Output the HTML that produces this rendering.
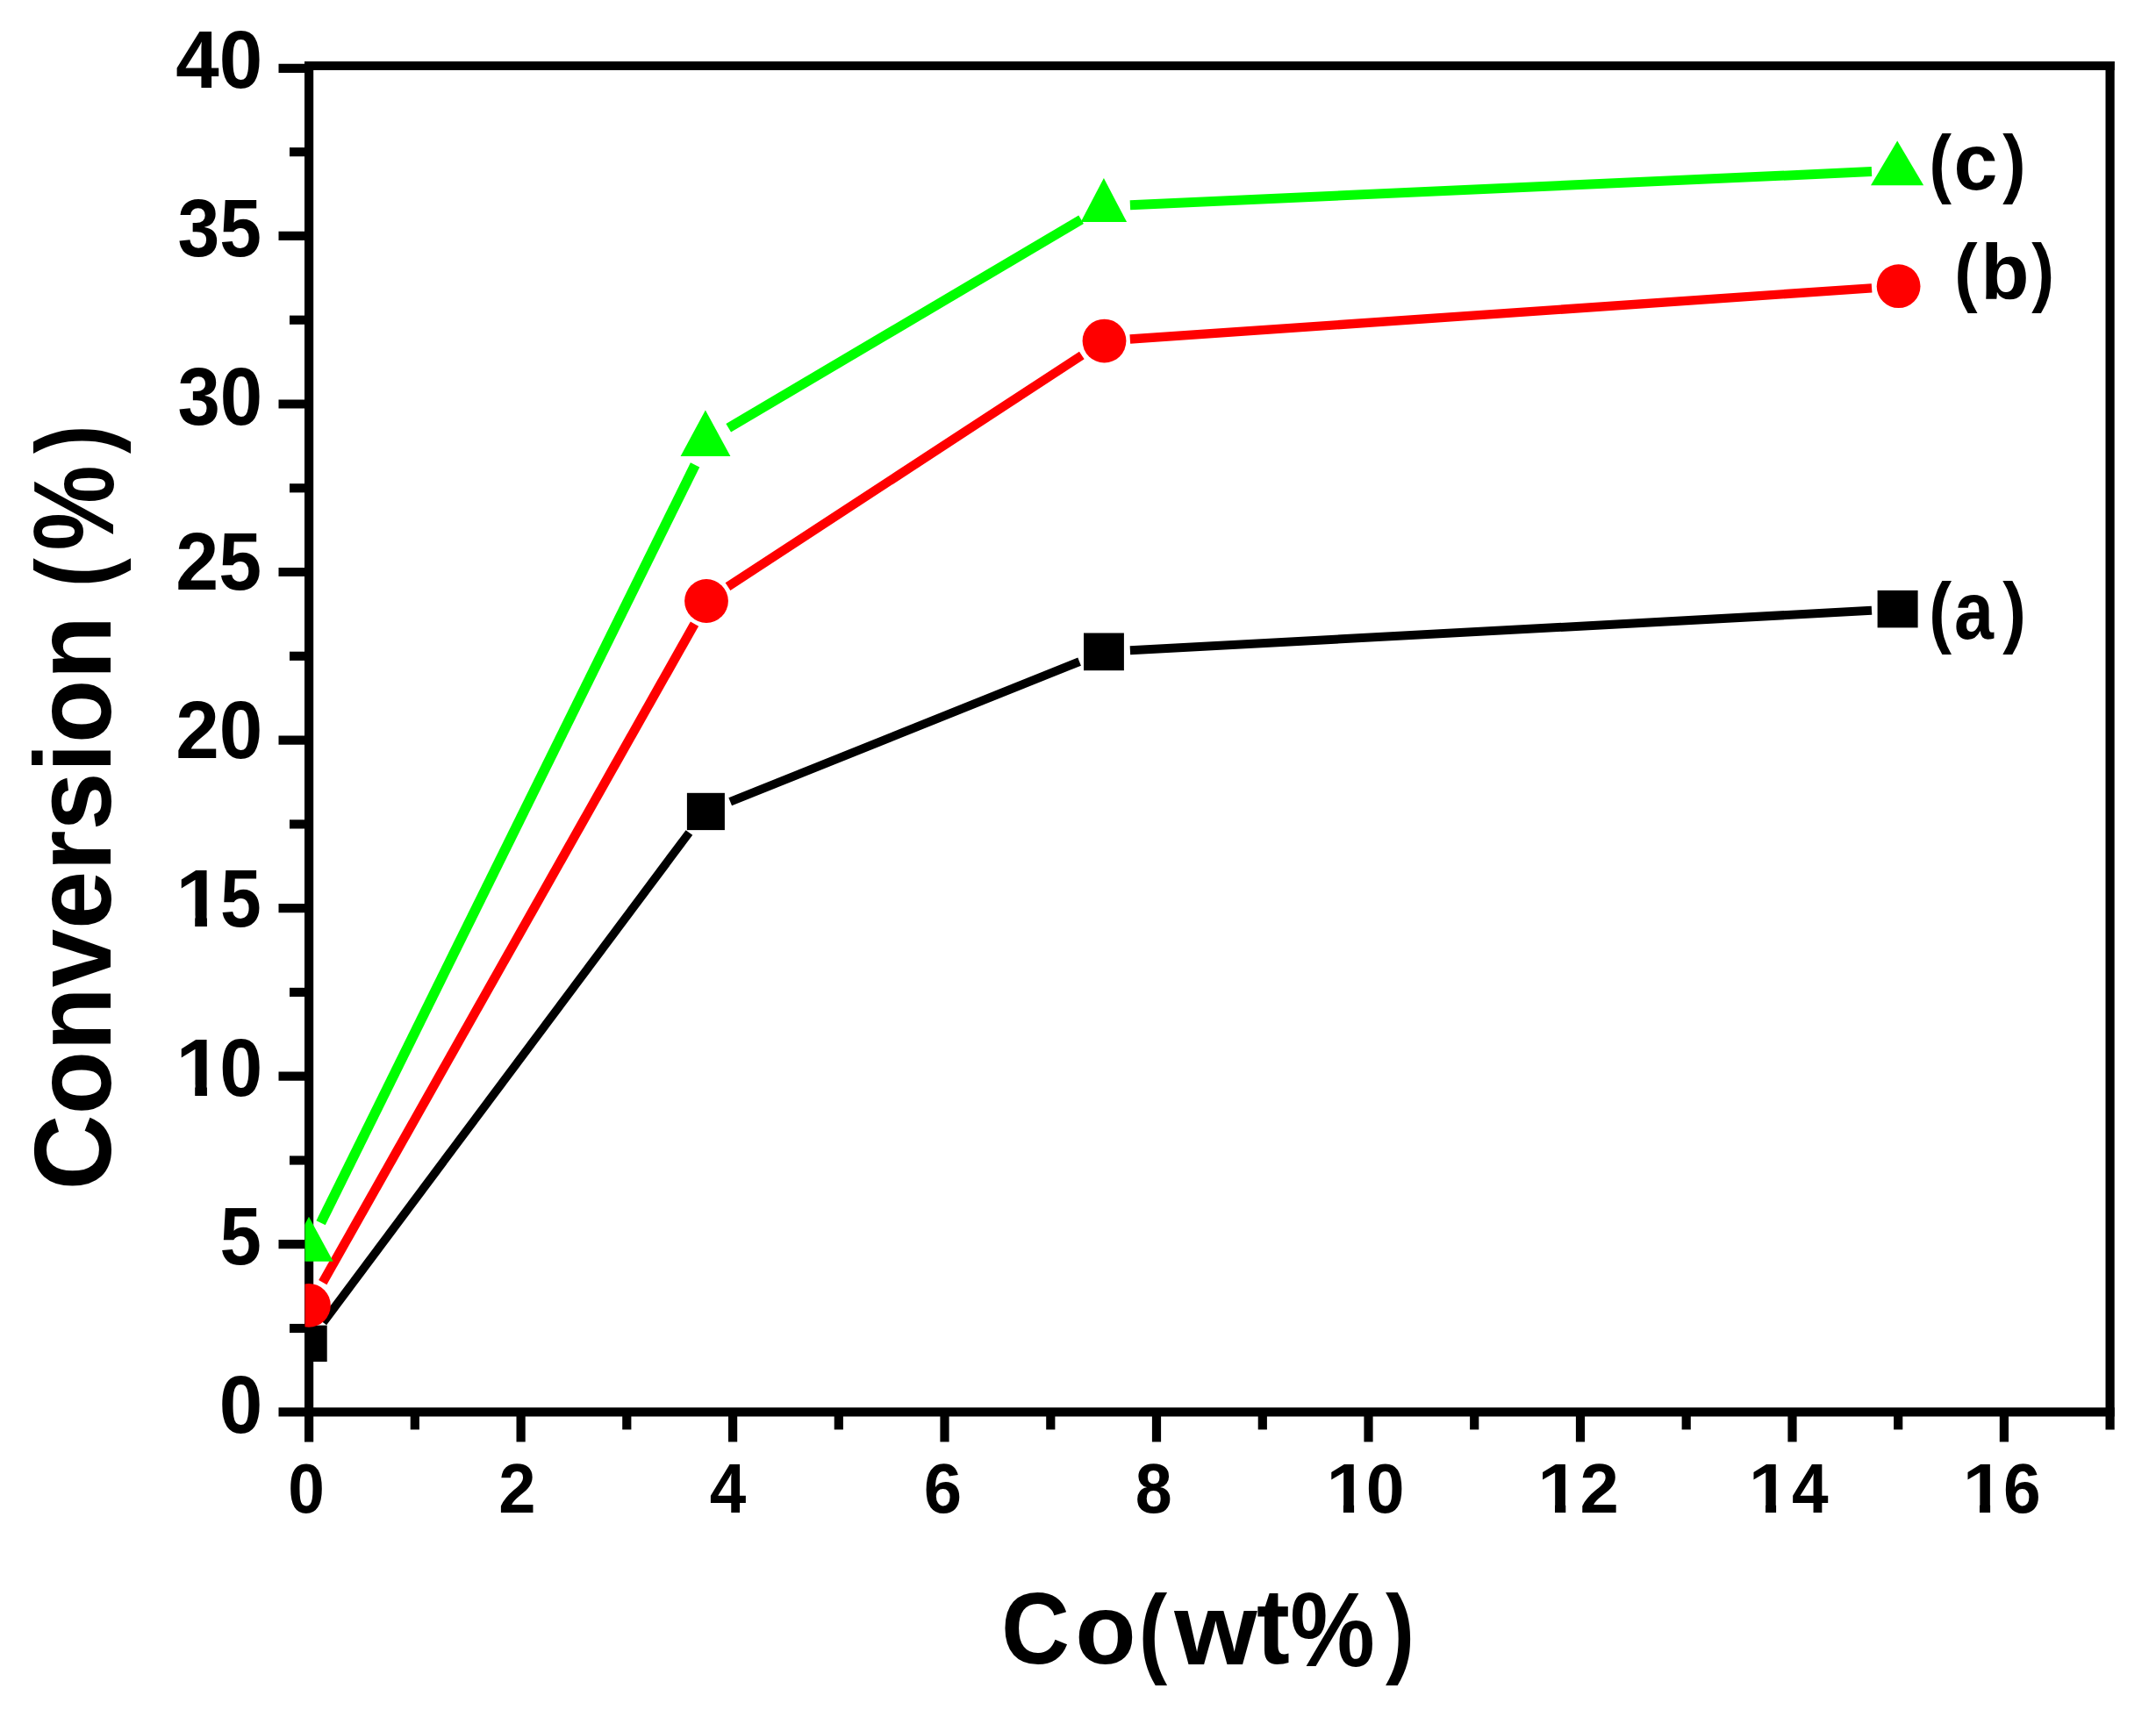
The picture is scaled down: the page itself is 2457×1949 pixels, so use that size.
<!DOCTYPE html>
<html lang="en"><head><meta charset="utf-8"><title>Conversion (%) vs Co(wt%)</title>
<style>html,body{margin:0;padding:0;background:#fff;}svg{display:block;}text{font-family:"Liberation Sans",Arial,Helvetica,sans-serif;font-weight:bold;fill:#000;}</style>
</head><body>
<svg width="2457" height="1949" viewBox="0 0 2457 1949">
<rect x="0" y="0" width="2457" height="1949" fill="#fff"/>
<defs><clipPath id="nofoot"><path d="M0 -80H60V-13.5H37.4V2H23V-13.5H0Z"/></clipPath><clipPath id="plotclip"><rect x="347.5" y="60" width="2070" height="1560"/></clipPath></defs>
<g stroke="#000" stroke-width="10.2" fill="none" stroke-linecap="butt">
<line x1="347.0" y1="75.0" x2="2409.7" y2="75.0"/>
<line x1="317.5" y1="1609.3" x2="2409.7" y2="1609.3"/>
<line x1="352.1" y1="69.9" x2="352.1" y2="1643.4"/>
<line x1="2404.6" y1="69.9" x2="2404.6" y2="1629.4"/>
<line x1="330.0" y1="1514.0" x2="352.1" y2="1514.0"/>
<line x1="317.5" y1="1418.2" x2="352.1" y2="1418.2"/>
<line x1="330.0" y1="1322.5" x2="352.1" y2="1322.5"/>
<line x1="317.5" y1="1226.7" x2="352.1" y2="1226.7"/>
<line x1="330.0" y1="1130.9" x2="352.1" y2="1130.9"/>
<line x1="317.5" y1="1035.1" x2="352.1" y2="1035.1"/>
<line x1="330.0" y1="939.4" x2="352.1" y2="939.4"/>
<line x1="317.5" y1="843.6" x2="352.1" y2="843.6"/>
<line x1="330.0" y1="747.8" x2="352.1" y2="747.8"/>
<line x1="317.5" y1="652.0" x2="352.1" y2="652.0"/>
<line x1="330.0" y1="556.3" x2="352.1" y2="556.3"/>
<line x1="317.5" y1="460.5" x2="352.1" y2="460.5"/>
<line x1="330.0" y1="364.7" x2="352.1" y2="364.7"/>
<line x1="317.5" y1="268.9" x2="352.1" y2="268.9"/>
<line x1="330.0" y1="173.2" x2="352.1" y2="173.2"/>
<line x1="317.5" y1="77.9" x2="352.1" y2="77.9"/>
<line x1="472.8" y1="1609.3" x2="472.8" y2="1629.4"/>
<line x1="593.6" y1="1609.3" x2="593.6" y2="1643.4"/>
<line x1="714.3" y1="1609.3" x2="714.3" y2="1629.4"/>
<line x1="835.1" y1="1609.3" x2="835.1" y2="1643.4"/>
<line x1="955.8" y1="1609.3" x2="955.8" y2="1629.4"/>
<line x1="1076.5" y1="1609.3" x2="1076.5" y2="1643.4"/>
<line x1="1197.3" y1="1609.3" x2="1197.3" y2="1629.4"/>
<line x1="1318.0" y1="1609.3" x2="1318.0" y2="1643.4"/>
<line x1="1438.8" y1="1609.3" x2="1438.8" y2="1629.4"/>
<line x1="1559.5" y1="1609.3" x2="1559.5" y2="1643.4"/>
<line x1="1680.2" y1="1609.3" x2="1680.2" y2="1629.4"/>
<line x1="1801.0" y1="1609.3" x2="1801.0" y2="1643.4"/>
<line x1="1921.7" y1="1609.3" x2="1921.7" y2="1629.4"/>
<line x1="2042.5" y1="1609.3" x2="2042.5" y2="1643.4"/>
<line x1="2163.2" y1="1609.3" x2="2163.2" y2="1629.4"/>
<line x1="2283.9" y1="1609.3" x2="2283.9" y2="1643.4"/>
</g>
<g>
<text font-size="100" transform="translate(200.25,99.60) scale(0.8900,0.9350)">40</text>
<text font-size="100" transform="translate(202.43,291.50) scale(0.8591,0.9350)">35</text>
<text font-size="100" transform="translate(202.40,483.70) scale(0.8699,0.9350)">30</text>
<text font-size="100" transform="translate(200.25,672.00) scale(0.8792,0.9350)">25</text>
<text font-size="100" transform="translate(200.21,864.40) scale(0.8904,0.9350)">20</text>
<g><text clip-path="url(#nofoot)" font-size="100" transform="translate(200.29,1056.20) scale(0.9529,0.9350)">1</text><text font-size="100" transform="translate(251.11,1056.20) scale(0.8421,0.9350)">5</text></g>
<g><text clip-path="url(#nofoot)" font-size="100" transform="translate(200.29,1248.90) scale(0.9529,0.9350)">1</text><text font-size="100" transform="translate(250.22,1248.90) scale(0.8810,0.9350)">0</text></g>
<text font-size="100" transform="translate(250.58,1441.30) scale(0.8522,0.9350)">5</text>
<text font-size="100" transform="translate(249.67,1633.10) scale(0.8915,0.9350)">0</text>
</g>
<g>
<text font-size="100" transform="translate(328.24,1724.40) scale(0.7486,0.7900)">0</text>
<text font-size="100" transform="translate(568.36,1724.40) scale(0.7602,0.7900)">2</text>
<text font-size="100" transform="translate(808.77,1724.40) scale(0.7468,0.7900)">4</text>
<text font-size="100" transform="translate(1052.84,1724.40) scale(0.7799,0.7900)">6</text>
<text font-size="100" transform="translate(1293.71,1724.40) scale(0.7536,0.7900)">8</text>
<g><text clip-path="url(#nofoot)" font-size="100" transform="translate(1511.53,1724.40) scale(0.8437,0.7900)">1</text><text font-size="100" transform="translate(1556.78,1724.40) scale(0.7885,0.7900)">0</text></g>
<g><text clip-path="url(#nofoot)" font-size="100" transform="translate(1752.36,1724.40) scale(0.8536,0.7900)">1</text><text font-size="100" transform="translate(1800.53,1724.40) scale(0.7976,0.7900)">2</text></g>
<g><text clip-path="url(#nofoot)" font-size="100" transform="translate(1992.78,1724.40) scale(0.8371,0.7900)">1</text><text font-size="100" transform="translate(2041.97,1724.40) scale(0.7486,0.7900)">4</text></g>
<g><text clip-path="url(#nofoot)" font-size="100" transform="translate(2236.66,1724.40) scale(0.8404,0.7900)">1</text><text font-size="100" transform="translate(2282.99,1724.40) scale(0.7675,0.7900)">6</text></g>
</g>
<g><text font-size="100" transform="rotate(-90) translate(-1356.48,126.00) scale(1.1901,1.2450)">Conversion</text> <text font-size="100" transform="rotate(-90) translate(-669.16,124.49) scale(0.9957,1.1908)">(</text><text font-size="100" transform="rotate(-90) translate(-627.52,128.88) scale(1.0932,1.3033)">%</text><text font-size="100" transform="rotate(-90) translate(-517.10,124.49) scale(0.9779,1.1908)">)</text></g>
<g><text font-size="100" transform="translate(1140.97,1896.17) scale(1.0798,1.1582)">C</text><text font-size="100" transform="translate(1225.26,1896.19) scale(1.1357,1.1335)">o</text><text font-size="100" transform="translate(1297.75,1896.69) scale(0.9744,1.1232)">(</text><text font-size="100" transform="translate(1338.36,1896.70) scale(1.2137,1.1489)">w</text><text font-size="100" transform="translate(1432.11,1896.22) scale(1.1374,1.2297)">t</text><text font-size="100" transform="translate(1470.30,1898.57) scale(1.0861,1.1967)">%</text><text font-size="100" transform="translate(1578.90,1896.69) scale(0.9921,1.1232)">)</text></g>
<g clip-path="url(#plotclip)">
<g stroke="#000" fill="none" stroke-linecap="butt"><path d="M368.3 1507.3L785.4 949.0" stroke-width="9.6"/><path d="M832.2 913.8L1230.1 754.1" stroke-width="9.8"/><path d="M1287.9 741.3L2133.0 695.8" stroke-width="10"/></g>
<rect x="329.7" y="1510.6" width="43.0" height="41.4" fill="#000"/>
<rect x="782.9" y="903.8" width="43.0" height="42.3" fill="#000"/>
<rect x="1235.0" y="721.5" width="45.9" height="42.7" fill="#000"/>
<rect x="2139.6" y="672.9" width="46.0" height="42.5" fill="#000"/>
<g stroke="#f00" fill="none" stroke-linecap="butt"><path d="M367.8 1461.7L791.5 711.1" stroke-width="10.6"/><path d="M829.5 668.6L1232.8 405.0" stroke-width="10.4"/><path d="M1287.8 386.5L2133.1 328.3" stroke-width="10.3"/></g>
<circle cx="351.9" cy="1487.8" r="24.9" fill="#f00"/>
<circle cx="805.0" cy="685.0" r="24.9" fill="#f00"/>
<circle cx="1258.5" cy="388.6" r="24.9" fill="#f00"/>
<circle cx="2163.6" cy="326.2" r="24.9" fill="#f00"/>
<g stroke="#0f0" fill="none" stroke-linecap="butt"><path d="M365.6 1393.8L792.1 529.9" stroke-width="11.5"/><path d="M830.2 487.7L1232.1 250.3" stroke-width="11.2"/><path d="M1287.9 233.7L2133.0 195.6" stroke-width="11"/></g>
<polygon points="352.0,1386.8 324.3,1437.7 379.7,1437.7" fill="#0f0"/>
<polygon points="803.9,467.4 775.6,520.0 832.4,520.0" fill="#0f0"/>
<polygon points="1257.9,203.1 1231.7,253.1 1284.1,253.1" fill="#0f0"/>
<polygon points="2162.2,160.4 2132.0,211.3 2192.2,211.3" fill="#0f0"/>
</g>
<g><text font-size="100" transform="translate(2198.39,215.01) scale(0.7653,0.8765)">(</text><text font-size="100" transform="translate(2226.59,216.31) scale(0.8979,0.9072)">c</text><text font-size="100" transform="translate(2282.32,215.01) scale(0.7901,0.8765)">)</text></g>
<g><text font-size="100" transform="translate(2227.26,339.14) scale(0.7901,0.8797)">(</text><text font-size="100" transform="translate(2257.13,340.63) scale(0.9049,0.8906)">b</text><text font-size="100" transform="translate(2315.32,339.14) scale(0.7760,0.8797)">)</text></g>
<g><text font-size="100" transform="translate(2198.34,726.59) scale(0.7760,0.8872)">(</text><text font-size="100" transform="translate(2226.93,728.20) scale(0.8083,0.9218)">a</text><text font-size="100" transform="translate(2282.32,726.59) scale(0.8008,0.8872)">)</text></g>
</svg></body></html>
